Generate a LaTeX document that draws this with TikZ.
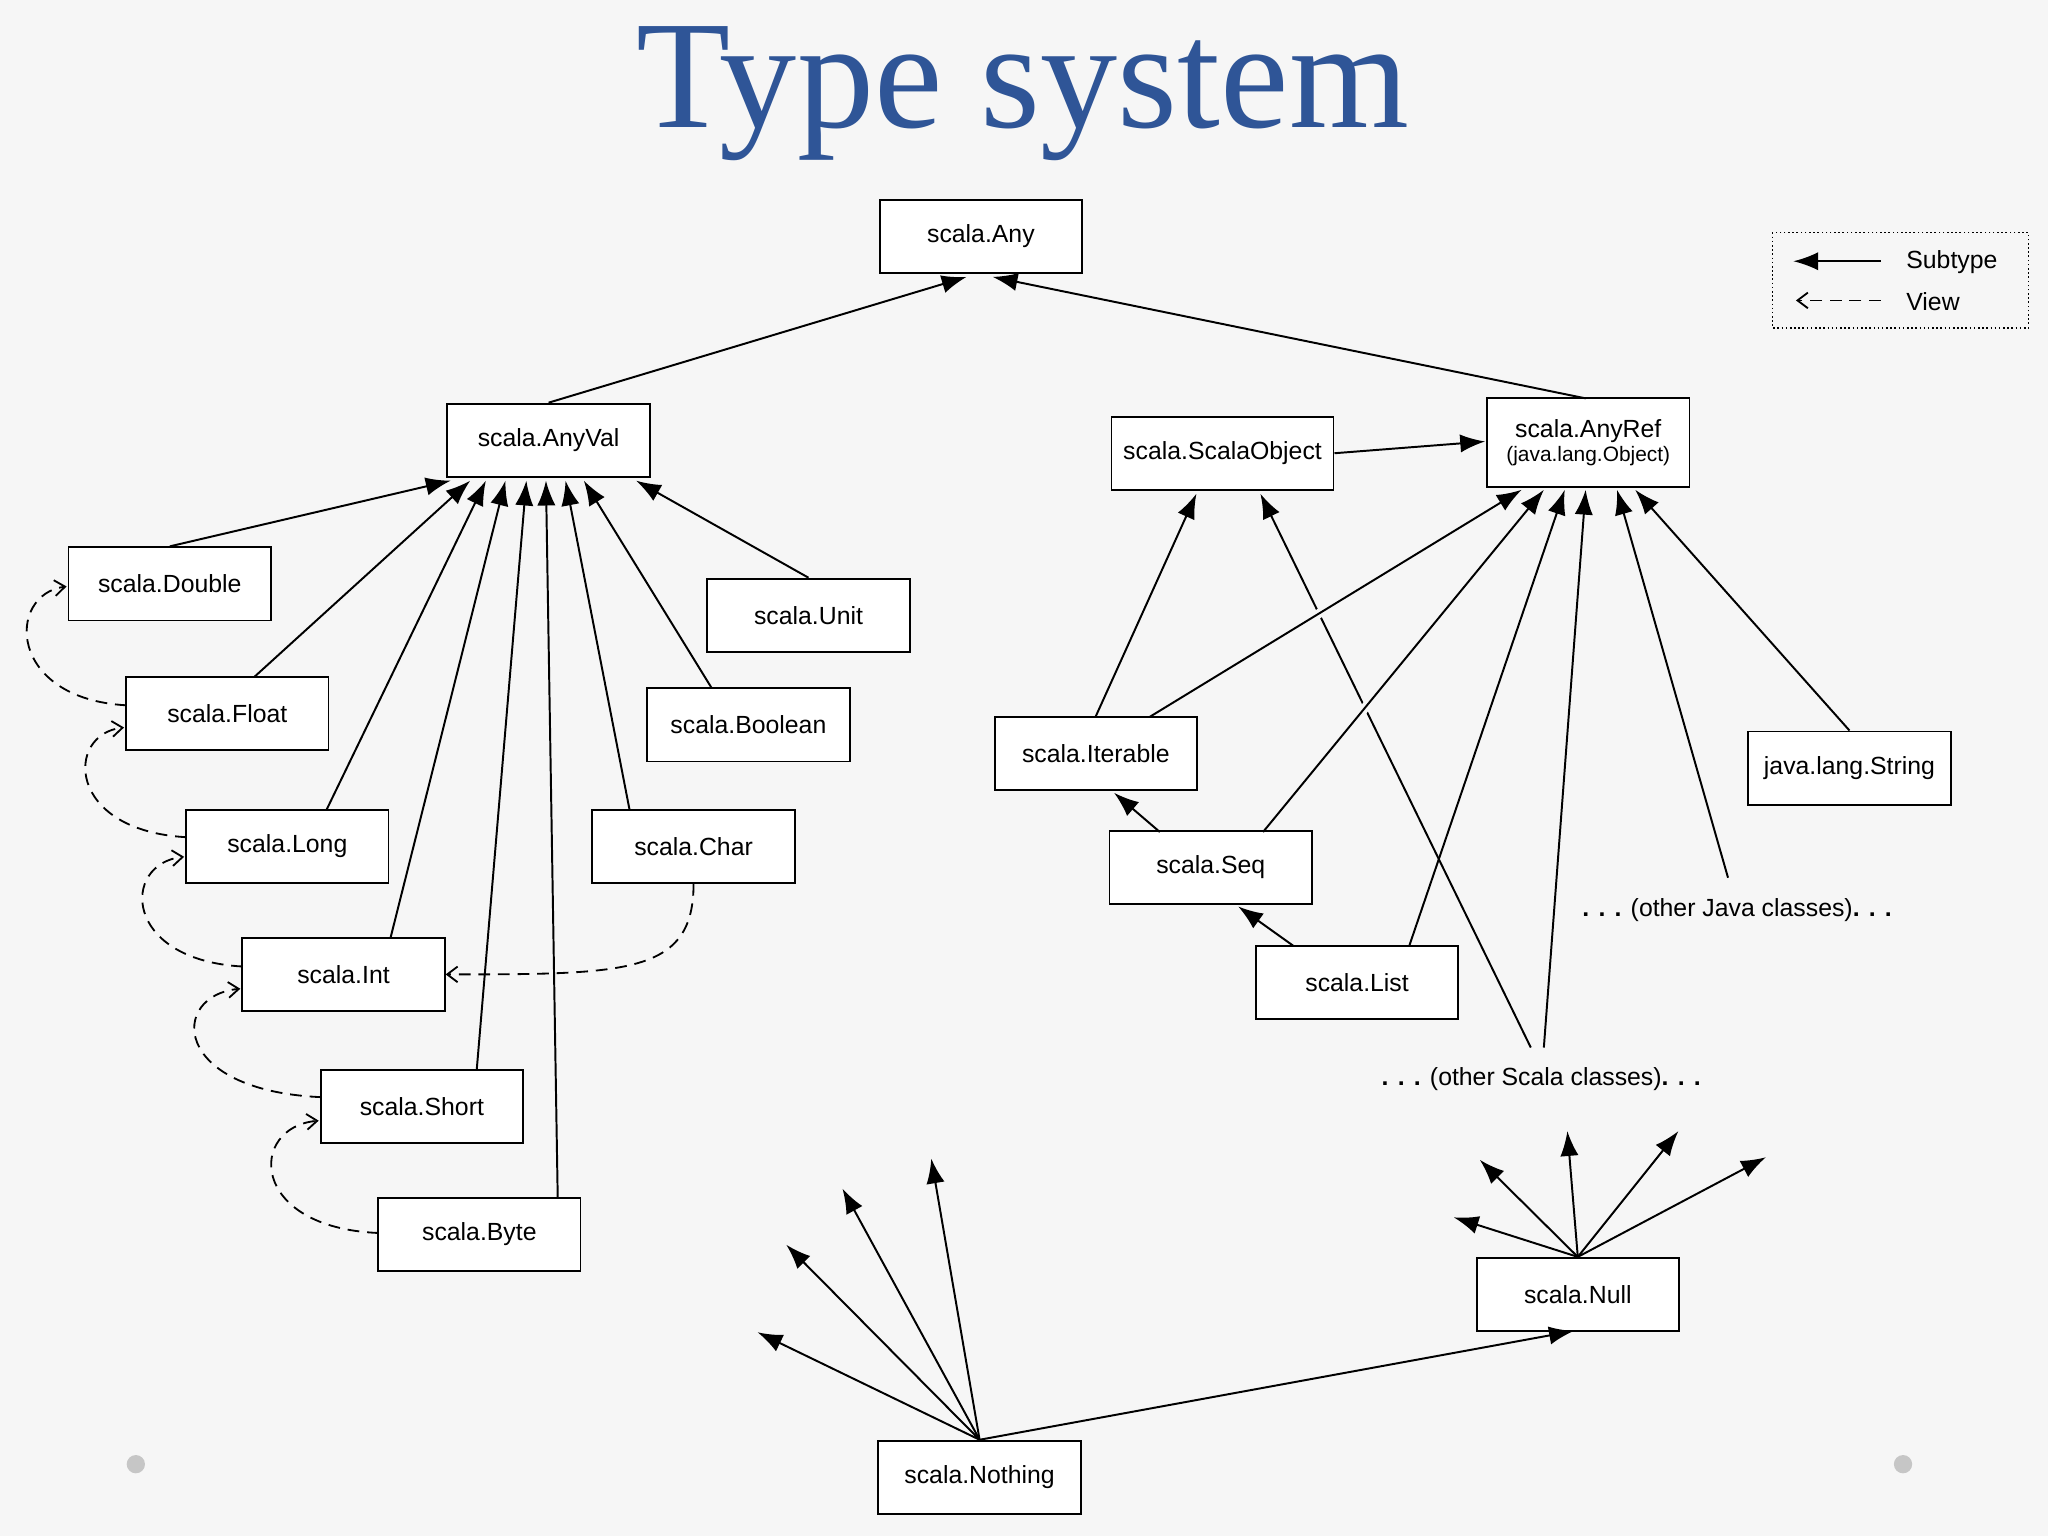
\documentclass[tikz,border=0pt]{standalone}
\usepackage{fontspec}
\setmainfont{Liberation Sans}
\newfontfamily\titlefont{Liberation Serif}
\usetikzlibrary{arrows.meta}
\begin{document}
\begin{tikzpicture}[x=1pt,y=-1pt,
 box/.style={draw,line width=1.4pt,minimum width=155pt,minimum height=56pt,inner sep=0pt,font=\fontsize{19}{21}\selectfont,fill=white},
 sub/.style={line width=1.5pt,-{Latex[length=19pt,width=14pt]}},
 view/.style={line width=1.4pt,dash pattern=on 9pt off 6pt,-{Straight Barb[length=8pt,width=12pt]}},
 lbl/.style={font=\fontsize{19}{21}\selectfont}]
\fill[gray!7] (0,0) rectangle (1568,1176);
\useasboundingbox (0,0) rectangle (1568,1176);
\fill[gray!45] (104,1121) circle (7);
\fill[gray!45] (1457,1121) circle (7);
\node (title) [font=\titlefont\fontsize{118}{126}\selectfont,text={rgb,255:red,47;green,85;blue,151}] at (783,72) {Type system};
% legend
\draw[line width=1.2pt,dotted] (1357,178) rectangle (1553,251);
\coordinate (la) at (1440,200); \coordinate (lb) at (1373,200);
\coordinate (lc) at (1440,230); \coordinate (ld) at (1375,230);
\draw[sub] (la) -- (lb);
\draw[view] (lc) -- (ld);
\node[lbl,anchor=west] (lsub) at (1456,201) {Subtype};
\node[lbl,anchor=west] (lview) at (1456,231) {View};
% nodes
\node[box] (any) at (751,181) {scala.Any};
\node[box] (anyval) at (420,337) {scala.AnyVal};
\node[box,minimum width=170pt] (so) at (936,347) {scala.ScalaObject};
\node[box,minimum height=68pt,align=center] (anyref) at (1216,339) {scala.AnyRef\\[-3pt]{\fontsize{16}{18}\selectfont(java.lang.Object)}};
\node[box] (double) at (130,447) {scala.Double};
\node[box] (unit) at (619,471) {scala.Unit};
\node[box] (float) at (174,546) {scala.Float};
\node[box] (bool) at (573,555) {scala.Boolean};
\node[box] (iter) at (839,577) {scala.Iterable};
\node[box] (string) at (1416,588) {java.lang.String};
\node[box] (long) at (220,648) {scala.Long};
\node[box] (char) at (531,648) {scala.Char};
\node[box] (seq) at (927,664) {scala.Seq};
\node[box] (int) at (263,746) {scala.Int};
\node[box] (list) at (1039,752) {scala.List};
\node[box] (short) at (323,847) {scala.Short};
\node[box] (byte) at (367,945) {scala.Byte};
\node[box] (null) at (1208,991) {scala.Null};
\node[box] (nothing) at (750,1131) {scala.Nothing};
\node[lbl,fill=gray!7,inner sep=1pt] (java) at (1330,697) {\textbf{. . .} (other Java classes)\textbf{. . .}};
\node[lbl,fill=gray!7,inner sep=1pt] (scalao) at (1180,826) {\textbf{. . .} (other Scala classes)\textbf{. . .}};
\coordinate (s1) at (1172,802); \coordinate (s2) at (1182,802);
% subtype arrows
\draw[sub] (anyval.north) -- (740,212);
\draw[sub] (1214,305) -- (760,212);
\draw[sub] (double.north) -- (345,368);
\draw[sub] (195,518) -- (360,368);
\draw[sub] (250,620) -- (372,368);
\draw[sub] (299,718) -- (387,368);
\draw[sub] (365,819) -- (403,368);
\draw[sub] (427,917) -- (418,368);
\draw[sub] (482,620) -- (433,368);
\draw[sub] (545,527) -- (447,368);
\draw[sub] (unit.north) -- (487,368);
\draw[sub] (so.east) -- (1137,338);
\draw[sub] (s1) -- (965,378);
\draw[sub] (iter.north) -- (916,378);
\draw[sub,preaction={draw,gray!7,line width=7pt,-,shorten <=10pt,shorten >=60pt}] (880,549) -- (1165,375);
\draw[sub,preaction={draw,gray!7,line width=7pt,-,shorten <=10pt,shorten >=60pt}] (967,637) -- (1182,375);
\draw[sub] (1079,724) -- (1198,375);
\draw[sub] (s2) -- (1214,375);
\draw[sub] (1323,672) -- (1238,375);
\draw[sub] (string.north) -- (1252,375);
\draw[sub] (888,637) -- (853,607);
\draw[sub] (990,724) -- (948,694);
% nothing rays
\coordinate (n1) at (580,1020); \coordinate (n2) at (602,953);
\coordinate (n3) at (645,910); \coordinate (n4) at (713,887);
\foreach \c in {n1,n2,n3,n4} \draw[sub] (nothing.north) -- (\c);
\draw[sub] (nothing.north) -- (1205,1019);
% null rays
\coordinate (u1) at (1113,932); \coordinate (u2) at (1133,888);
\coordinate (u3) at (1200,866); \coordinate (u4) at (1285,866);
\coordinate (u5) at (1352,886);
\foreach \c in {u1,u2,u3,u4,u5} \draw[sub] (null.north) -- (\c);
% views
\draw[view] (97,540) .. controls (5,535) and (5,455) .. (51,449);
\draw[view] (143,641) .. controls (50,636) and (50,562) .. (95,557);
\draw[view] (186,740) .. controls (93,735) and (93,661) .. (141,656);
\draw[view] (246,840) .. controls (130,835) and (130,762) .. (184,757);
\draw[view] (290,944) .. controls (190,940) and (190,863) .. (244,858);
\draw[view] (char.south) .. controls (531,746) and (480,746) .. (int.east);
\end{tikzpicture}
\end{document}
